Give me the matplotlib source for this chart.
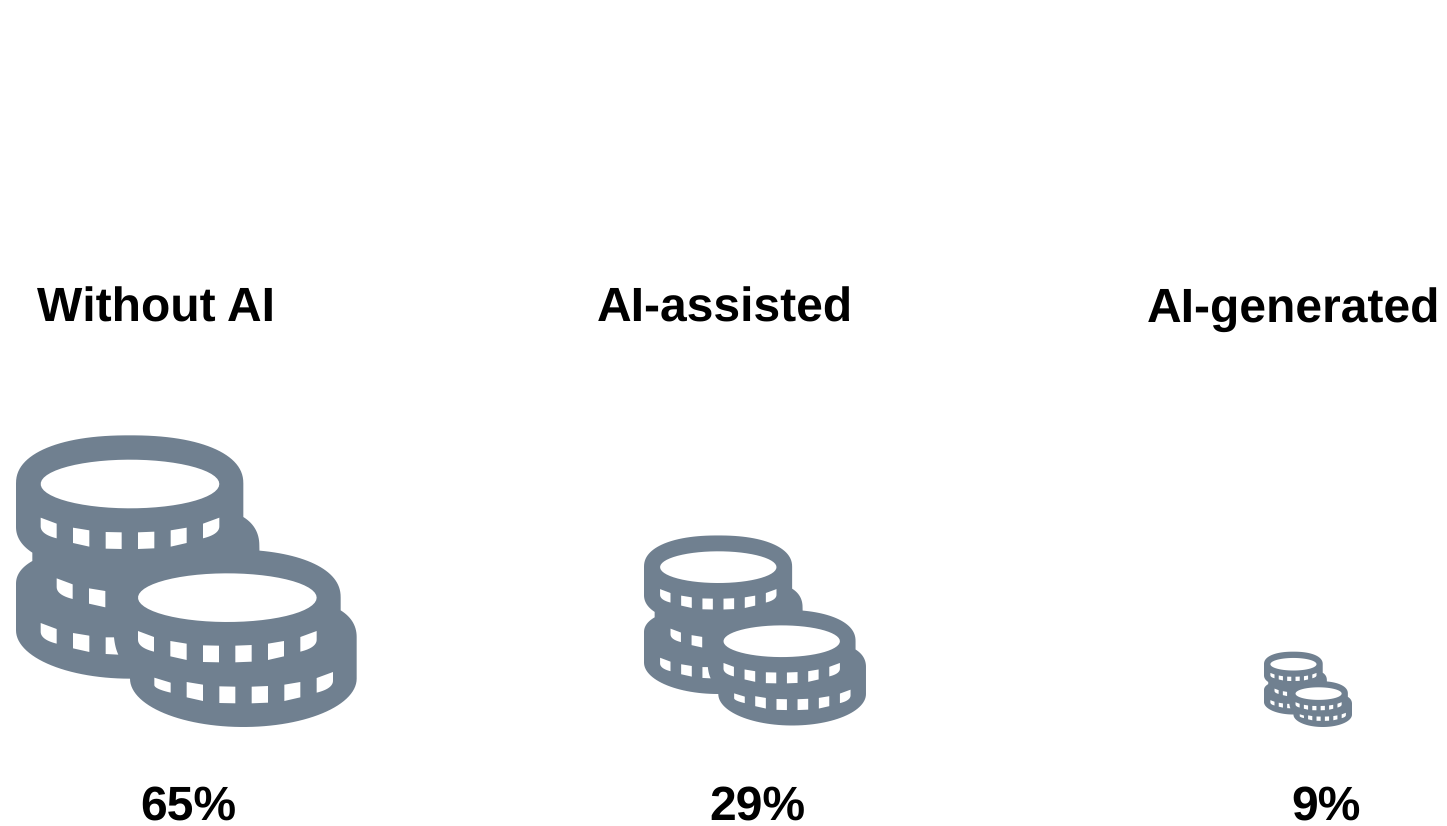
import numpy as np
import matplotlib
matplotlib.use("Agg")
import matplotlib.pyplot as plt
from matplotlib.patches import PathPatch
from matplotlib.path import Path
from matplotlib.transforms import Affine2D

categories = ["Without AI", "AI-assisted", "AI-generated"]
shares = [65, 29, 9]

COLOR = "#708090"
ICON_SCALE = [1 / 3, 0.2172, 0.0861]
ICON_LEFT = [16, 644, 1264]
ICON_BOTTOM = [727, 725.5, 727]
TITLE_X = [155.5, 724.5, 1293.5]
VALUE_X = [188, 757, 1326]
TITLE_BASE = 322
VALUE_BASE = 819.5
FS = 34.5

plt.rcParams["text.hinting"] = "no_hinting"
plt.rcParams["text.hinting_factor"] = 1


def arc(cx, cy, rx, ry, a0, a1, n=60, power=2.0):
    t = np.radians(np.linspace(a0, a1, n))
    c, s = np.cos(t), np.sin(t)
    return np.column_stack([
        cx + rx * np.sign(c) * np.abs(c) ** (2 / power),
        cy + ry * np.sign(s) * np.abs(s) ** (2 / power),
    ])


def quad(p0, c, p1, n=16):
    t = np.linspace(0, 1, n)[:, None]
    p0, c, p1 = map(np.array, (p0, c, p1))
    return (1 - t) ** 2 * p0 + 2 * t * (1 - t) * c + t ** 2 * p1


def oriented(poly, positive):
    poly = np.asarray(poly, float)
    x, y = poly[:, 0], poly[:, 1]
    area = np.sum(x * np.roll(y, -1) - np.roll(x, -1) * y)
    return poly if (area > 0) == positive else poly[::-1]


def tile_set():
    first = np.vstack([[(122, 292), (170, 310)], quad((170, 354), (122, 342), (122, 318))])
    last = np.vstack([[(658, 292), (609, 310)], quad((609, 354), (658, 342), (658, 318))])
    mids = [
        [(219, 322), (268, 330), (268, 379), (219, 368)],
        [(317, 335), (365, 336), (365, 386), (317, 385)],
        [(414, 336), (463, 334), (463, 384), (414, 386)],
        [(512, 330), (560, 322), (560, 368), (512, 379)],
    ]
    return [first] + [np.array(m, float) for m in mids] + [last]


def coin_glyph():
    outer = np.vstack([
        arc(389, 190, 341, 145, 180, 360, power=2.25),
        quad((730, 290), (778, 320), (778, 375)),
        arc(682, 532, 340, 145, -76, 0, 30, power=2.25),
        quad((1022, 570), (1070, 600), (1070, 650)),
        arc(730, 775, 340, 145, 0, 180),
        arc(389, 630, 341, 145, 90, 180, 30),
        quad((48, 490), (48, 450), (97, 422)),
        quad((97, 397), (48, 365), (48, 320)),
    ])
    t = tile_set()
    holes = [arc(390, 191, 268, 73, 0, 360)[:-1], arc(682, 532, 268, 73, 0, 360)[:-1]]
    holes += [p + (0, 0) for p in t]
    holes += [p + (48, 182) for p in t[:2]]
    holes += [p + (0, 316) for p in t[:2]]
    holes.append(np.vstack([[(317, 651), (342, 651)], quad((342, 651), (345, 682), (355, 703)), [(317, 701)]]))
    holes += [p + (292, 340) for p in t]
    holes += [p + (341, 463) for p in t[1:]]
    holes.append(np.vstack([[(463, 772), (512, 787)], quad((512, 817), (465, 806), (463, 795))]))

    verts, codes = [], []
    for i, poly in enumerate([outer] + holes):
        poly = oriented(poly, i == 0)
        verts += list(poly) + [poly[0]]
        codes += [Path.MOVETO] + [Path.LINETO] * (len(poly) - 1) + [Path.CLOSEPOLY]
    return Path(np.array(verts), codes)


fig = plt.figure(figsize=(14.47, 8.26), dpi=100, facecolor="white")
ax = fig.add_axes([0, 0, 1, 1])
ax.set_xlim(0, 1447)
ax.set_ylim(826, 0)
ax.axis("off")

glyph = coin_glyph()
for i, (name, value) in enumerate(zip(categories, shares)):
    s = ICON_SCALE[i]
    tr = Affine2D().translate(-48, -920).scale(s).translate(ICON_LEFT[i], ICON_BOTTOM[i])
    ax.add_patch(PathPatch(glyph, transform=tr + ax.transData, facecolor=COLOR, edgecolor="none"))
    ax.text(TITLE_X[i], TITLE_BASE, name, ha="center", va="baseline", fontsize=FS,
            fontweight="bold", family="Liberation Sans", color="black")
    ax.text(VALUE_X[i], VALUE_BASE, f"{value}%", ha="center", va="baseline", fontsize=FS,
            fontweight="bold", family="Liberation Sans", color="black")

fig.savefig("out.png", dpi=100)
